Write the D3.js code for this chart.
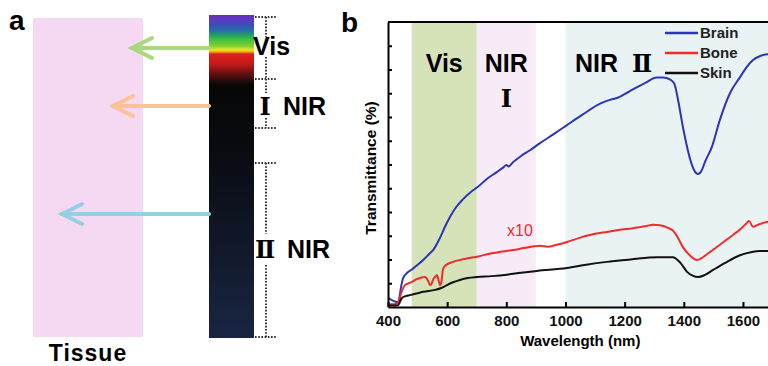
<!DOCTYPE html>
<html>
<head>
<meta charset="utf-8">
<script src="https://cdn.jsdelivr.net/npm/d3@7"></script>
<style>
  body { margin: 0; background: #fff; }
  svg { display: block; font-family: "Liberation Sans", Arial, sans-serif; font-weight: bold; }
  .roman { font-family: "DejaVu Serif", serif; font-weight: bold; }
</style>
</head>
<body>
<svg id="fig" width="768" height="366"></svg>
<script>
// transmittance spectra, bone scaled x10
var brainNm = [400,415,434,445,451,465,481,500,519,540,555,576,595,610,630,654,680,704,735,768,790,800,808,823,850,880,914,960,1005,1060,1117,1150,1174,1200,1228,1270,1309,1330,1353,1368,1380,1397,1410,1421,1435,1448,1460,1472,1495,1522,1556,1590,1610,1634,1660,1685,1700];
var brainT  = [1.9,1.4,1.0,4.5,6.1,7.2,7.9,8.9,9.9,11.2,12.2,14.6,17.2,19.0,21.0,22.7,24.2,25.3,27.0,28.4,29.4,29.9,29.6,30.5,31.8,33.0,34.5,36.4,38.3,40.6,42.8,43.6,44.0,44.8,45.8,47.2,48.3,48.3,47.9,47.0,43.8,37.9,34.0,31.2,28.8,28.0,28.7,30.6,33.7,39.4,45.0,48.4,50.3,52.0,52.9,53.2,53.0];

var boneNm = [400,420,434,445,457,470,481,495,508,525,535,542,548,552,560,566,571,576,581,586,595,620,650,701,750,800,823,860,914,940,970,1005,1050,1100,1140,1180,1228,1270,1296,1320,1345,1363,1380,1397,1420,1445,1460,1489,1520,1556,1590,1613,1620,1634,1650,1681,1700];
var boneT  = [0.6,0.6,0.9,3.0,4.6,5.0,5.3,5.8,6.1,6.3,5.6,4.6,5.0,5.7,6.4,6.7,5.6,4.6,5.4,8.0,8.8,9.5,10.0,10.6,11.3,11.8,12.0,12.4,12.9,12.7,13.1,13.7,14.6,15.4,15.8,16.2,16.6,17.0,17.3,17.2,16.7,16.1,14.6,12.6,10.9,9.9,10.3,11.6,13.0,14.7,16.3,17.7,18.1,16.9,17.3,17.9,18.0];

var skinNm = [400,420,434,447,460,474,500,519,559,580,599,620,643,670,701,750,802,850,904,1005,1070,1140,1220,1309,1363,1390,1411,1430,1448,1470,1499,1540,1590,1630,1657,1700];
var skinT  = [0.3,0.3,0.4,1.9,2.3,2.5,2.9,3.2,3.6,4.0,4.6,5.2,5.7,6.1,6.3,6.5,6.8,7.2,7.6,8.2,8.9,9.5,10.0,10.5,10.5,9.2,7.4,6.6,6.3,6.7,7.8,9.3,10.9,11.6,11.8,11.8];

var seriesNames  = ["Brain", "Bone", "Skin"];
var seriesColors = ["#2b36b6", "#f42a2a", "#111111"];

var bandNames = ["Vis", "NIR I", "NIR II"];
var bandFrom  = [480, 700, 1000];
var bandTo    = [700, 900, 1800];
var bandFill  = ["#d6e2b8", "#f8ebf8", "#e9f3f4"];

var xTicks = [400, 600, 800, 1000, 1200, 1400, 1600];

var svg = d3.select("#fig");

// ---------- panel a ----------
var pa = svg.append("g");
pa.append("text").attr("x", 9).attr("y", 30).style("font-size", "28px").text("a");

pa.append("rect")
    .attr("x", 33).attr("y", 18).attr("width", 110).attr("height", 319)
    .style("fill", "#f5d9f3");
pa.append("text").attr("x", 88).attr("y", 361).attr("text-anchor", "middle")
    .style("font-size", "23px").style("letter-spacing", "1px").text("Tissue");

var defs = svg.append("defs");
var grad = defs.append("linearGradient").attr("id", "spec")
    .attr("x1", 0).attr("y1", 0).attr("x2", 0).attr("y2", 1);
var stops = [[15,"#6b2cbf"],[20,"#5b3cc0"],[25,"#3a4fb8"],[31,"#2870a8"],[35,"#20a060"],[39,"#3cc040"],[46,"#80d030"],[50,"#eaea20"],[52,"#f0a020"],[54,"#e02020"],[64,"#c41818"],[74,"#601010"],[85,"#070707"],[160,"#0a0c12"],[338,"#182542"]];
stops.forEach(function(s){
    grad.append("stop").attr("offset", ((s[0]-15)/323*100)+"%").attr("stop-color", s[1]);
});
pa.append("rect").attr("x", 209).attr("y", 15).attr("width", 45).attr("height", 323)
    .style("fill", "url(#spec)");

// dotted brackets
var dot = "1.6,1.6";
[17, 79, 128, 163, 337].forEach(function(y){
    pa.append("line").attr("x1", 255).attr("x2", 277).attr("y1", y).attr("y2", y)
        .style("stroke", "#333").style("stroke-width", 2).style("stroke-dasharray", dot);
});
[[17,37],[57,79],[79,93],[118,128],[163,234],[265,337]].forEach(function(s){
    pa.append("line").attr("x1", 266).attr("x2", 266).attr("y1", s[0]).attr("y2", s[1])
        .style("stroke", "#333").style("stroke-width", 2).style("stroke-dasharray", dot);
});

pa.append("text").attr("x", 253).attr("y", 55).style("font-size", "25px").text("Vis");
pa.append("text").attr("class", "roman").attr("x", 265).attr("y", 115).attr("text-anchor", "middle")
    .style("font-size", "24px").text("Ⅰ");
pa.append("text").attr("x", 283).attr("y", 115).style("font-size", "25px").text("NIR");
pa.append("text").attr("class", "roman").attr("x", 265).attr("y", 258).attr("text-anchor", "middle")
    .style("font-size", "24px").text("Ⅱ");
pa.append("text").attr("x", 287).attr("y", 258).style("font-size", "25px").text("NIR");

// arrows into tissue
var arrows = [[48, 132, "#a8d97c"], [106, 113, "#f9c396"], [214, 62, "#94d0e2"]];
arrows.forEach(function(a){
    var y = a[0], tip = a[1];
    var g = pa.append("g").style("stroke", a[2]).style("stroke-width", 4)
        .style("stroke-linecap", "round").style("fill", "none");
    g.append("line").attr("x1", 209).attr("x2", tip).attr("y1", y).attr("y2", y);
    g.append("path").attr("d", "M" + (tip+20) + "," + (y-10) + "L" + tip + "," + y + "L" + (tip+20) + "," + (y+10));
});

// ---------- panel b ----------
var plotLeft = 388, plotTop = 22, plotBottom = 307;
var x = d3.scaleLinear().domain([400, 1700]).range([plotLeft, plotLeft + 1300*0.2958]);
var y = d3.scaleLinear().domain([0, 60]).range([plotBottom, plotTop]);

svg.append("text").attr("x", 341).attr("y", 32).style("font-size", "28px").text("b");

var pb = svg.append("g");
pb.selectAll("rect.band").data(bandNames).enter().append("rect")
    .attr("class", "band")
    .attr("x", function(d, i){ return x(bandFrom[i]); })
    .attr("width", function(d, i){ return x(bandTo[i]) - x(bandFrom[i]); })
    .attr("y", plotTop).attr("height", plotBottom - plotTop)
    .style("fill", function(d, i){ return bandFill[i]; });

pb.append("text").attr("x", x(590)).attr("y", 72).attr("text-anchor", "middle")
    .style("font-size", "25px").text("Vis");
pb.append("text").attr("x", x(800)).attr("y", 72).attr("text-anchor", "middle")
    .style("font-size", "25px").text("NIR");
pb.append("text").attr("class", "roman").attr("x", x(800)).attr("y", 107).attr("text-anchor", "middle")
    .style("font-size", "24px").text("Ⅰ");
pb.append("text").attr("x", 575).attr("y", 72).style("font-size", "25px").text("NIR");
pb.append("text").attr("class", "roman").attr("x", 642).attr("y", 72).attr("text-anchor", "middle")
    .style("font-size", "24px").text("Ⅱ");

var line = d3.line()
    .x(function(d){ return x(d[0]); })
    .y(function(d){ return y(d[1]); })
    .curve(d3.curveMonotoneX);

var series = [d3.zip(brainNm, brainT), d3.zip(boneNm, boneT), d3.zip(skinNm, skinT)];
pb.selectAll("path.spec").data(series).enter().append("path")
    .attr("class", "spec")
    .attr("d", line)
    .style("fill", "none")
    .style("stroke", function(d, i){ return seriesColors[i]; })
    .style("stroke-width", 2);

pb.append("text").attr("x", 507).attr("y", 236)
    .style("fill", "#f42a2a").style("font-size", "16px").style("font-weight", "normal").text("x10");

// legend
var lg = pb.selectAll("g.leg").data(seriesNames).enter().append("g").attr("class", "leg")
    .attr("transform", function(d, i){ return "translate(665," + (33 + i*20) + ")"; });
lg.append("line").attr("x1", 0).attr("x2", 33)
    .style("stroke", function(d, i){ return seriesColors[i]; }).style("stroke-width", 2.5);
lg.append("text").attr("x", 35).attr("y", 5).style("font-size", "15px").style("fill", "#222")
    .text(function(d){ return d; });

// axes
var xAxis = d3.axisBottom(x).tickValues(xTicks).tickFormat(d3.format("d"))
    .tickSizeInner(-5).tickSizeOuter(0).tickPadding(8);
var gx = pb.append("g").attr("transform", "translate(0," + plotBottom + ")").call(xAxis);
gx.selectAll("text").style("font-size", "15px").style("font-family", "'Liberation Sans', Arial").style("fill", "#111");
gx.selectAll("line").style("stroke-width", 2);
gx.select(".domain").style("stroke-width", 2);

var yAxis = d3.axisLeft(y).tickValues(d3.range(5, 60, 5)).tickSizeInner(-4).tickSizeOuter(0).tickFormat("");
var gy = pb.append("g").attr("transform", "translate(" + plotLeft + ",0)").call(yAxis);
gy.selectAll("line").style("stroke-width", 2);
gy.select(".domain").style("stroke-width", 2);

pb.append("line").attr("x1", plotLeft).attr("x2", 800).attr("y1", plotTop).attr("y2", plotTop)
    .style("stroke", "#000").style("stroke-width", 2);

pb.append("text").attr("x", x(1050)).attr("y", 346).attr("text-anchor", "middle")
    .style("font-size", "15px").text("Wavelength (nm)");
pb.append("text").attr("transform", "translate(376,168) rotate(-90)").attr("text-anchor", "middle")
    .style("font-size", "15.5px").text("Transmittance (%)");
</script>
</body>
</html>
